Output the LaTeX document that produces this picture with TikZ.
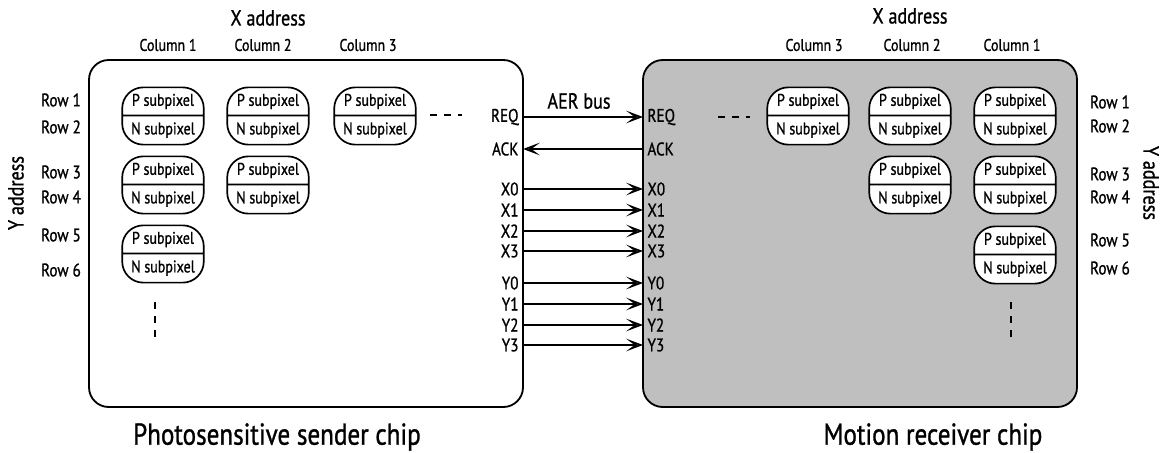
\documentclass[tikz,border=0pt]{standalone}
\usepackage{fontspec}
\setmainfont{PT Sans}[FakeStretch=0.83, FakeBold=1]
\usetikzlibrary{arrows.meta,shapes.multipart}

\begin{document}
\begin{tikzpicture}[x=0.025cm, y=-0.025cm,
  chip/.style={draw, line width=1.3pt, rounded corners=14pt},
  subpix/.style={rectangle split, rectangle split parts=2, draw, line width=1.2pt, fill=white,
    rounded corners=15pt, minimum width=58pt, inner xsep=2pt, inner ysep=4.3pt,
    text height=8.2pt, text depth=2pt, font=\fontsize{12}{14}\selectfont},
  lbl/.style={font=\fontsize{13}{15}\selectfont, inner sep=0pt},
  col/.style={font=\fontsize{12}{14}\selectfont},
  axis/.style={font=\fontsize{15.5}{18}\selectfont},
  title/.style={font=\fontsize{21.5}{25}\selectfont},
  sig/.style={font=\fontsize{13}{15}\selectfont, inner xsep=3pt, inner ysep=0pt},
  bus/.style={line width=1pt, -{Stealth[length=12pt, width=9pt, inset=6pt, fill=black!80]}},
  more/.style={line width=1.4pt, dash pattern=on 5pt off 5pt}]
  \useasboundingbox (0,0) rectangle (1163,453);

  % chips
  \draw[chip] (89,60) rectangle (523,407);
  \draw[chip, fill=black!25] (643,60) rectangle (1077,407);
  \node[title] (sender) at (277,437) {Photosensitive sender chip};
  \node[title] (receiver) at (933,437) {Motion receiver chip};

  % sender pixel array
  \node[axis] (xaddrL) at (268,18) {X address};
  \node[col] at (168,45) {Column 1};
  \node[col] at (263,45) {Column 2};
  \node[col] at (368,45) {Column 3};
  \node[axis, rotate=90] (yaddrL) at (16,193) {Y address};
  \foreach \r/\y in {1/100, 2/127, 3/172, 4/197, 5/235, 6/270}
    \node[lbl] at (61,\y) {Row \r};
  \foreach \n/\x/\y in {L11/163/116, L21/268/116, L31/375/116, L12/163/185, L22/268/185, L13/163/254}
    \node[subpix] (\n) at (\x,\y) {P subpixel\nodepart{two}N subpixel};
  \draw[more] (430,115) -- (462,115);
  \draw[more] (155,302) -- (155,340);

  % receiver pixel array
  \node[axis] (xaddrR) at (910,16) {X address};
  \node[col] at (814,45) {Column 3};
  \node[col] at (912,45) {Column 2};
  \node[col] at (1012,45) {Column 1};
  \node[axis, rotate=-90] (yaddrR) at (1151,183) {Y address};
  \foreach \r/\y in {1/102, 2/126, 3/174, 4/197, 5/240, 6/268}
    \node[lbl] at (1110,\y) {Row \r};
  \foreach \n/\x/\y in {R31/808/116, R21/910/116, R11/1015/116, R22/910/185, R12/1015/185, R13/1015/255}
    \node[subpix] (\n) at (\x,\y) {P subpixel\nodepart{two}N subpixel};
  \draw[more] (718,117) -- (750,117);
  \draw[more] (1011,302) -- (1011,340);

  % AER bus
  \node[axis] (aer) at (579,101) {AER bus};
  \foreach \s/\y in {REQ/117, ACK/149, X0/189, X1/210, X2/231, X3/251, Y0/283, Y1/304, Y2/325, Y3/345} {
    \node[sig, anchor=east] (l\s) at (523,\y) {\s};
    \node[sig, anchor=west] (r\s) at (643,\y) {\s};
  }
  \foreach \s in {REQ, X0, X1, X2, X3, Y0, Y1, Y2, Y3}
    \draw[bus] (l\s.east) -- (r\s.west);
  \draw[bus] (rACK.west) -- (lACK.east);
\end{tikzpicture}
\end{document}
